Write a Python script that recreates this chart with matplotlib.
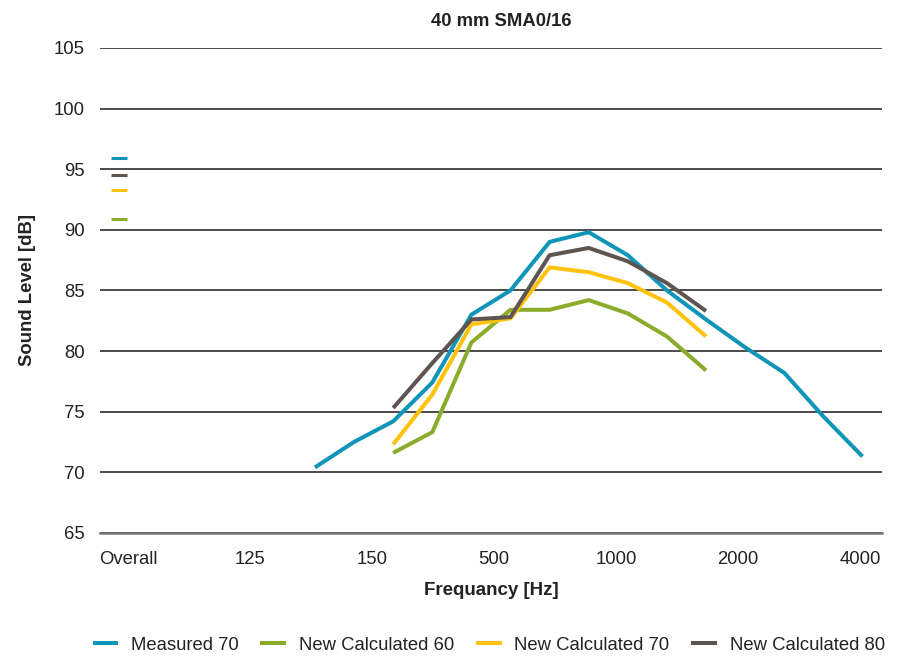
"""
Sound level by frequency band, 40 mm SMA0/16
"""

import matplotlib.pyplot as plt
import numpy as np

nan = np.nan

# frequency bands: "Overall" first, then 1/3-octave bands (19 of them)
n_bands = 20
tick_labels = ["Overall", "125", "150", "500", "1000", "2000", "4000"]

measured_70 = [95.9, nan, nan, nan, nan, 70.4, 72.5, 74.2, 77.4, 83.0,
               85.0, 89.0, 89.8, 87.9, 85.0, 82.6, 80.3, 78.2, 74.6, 71.3]
calc_60 = [90.9, nan, nan, nan, nan, nan, nan, 71.6, 73.3, 80.7,
           83.4, 83.4, 84.2, 83.1, 81.2, 78.4, nan, nan, nan, nan]
calc_70 = [93.3, nan, nan, nan, nan, nan, nan, 72.3, 76.4, 82.2,
           82.7, 86.9, 86.5, 85.6, 84.0, 81.2, nan, nan, nan, nan]
calc_80 = [94.5, nan, nan, nan, nan, nan, nan, 75.3, 79.0, 82.6,
           82.8, 87.9, 88.5, 87.4, 85.6, 83.3, nan, nan, nan, nan]

series = [
    ("Measured 70", measured_70, "#0f95b8"),
    ("New Calculated 60", calc_60, "#8aac2a"),
    ("New Calculated 70", calc_70, "#ffc20e"),
    ("New Calculated 80", calc_80, "#5e5450"),
]

plt.rcParams['font.family'] = ['Liberation Sans', 'DejaVu Sans']

fig = plt.figure(figsize=(9, 6.57), dpi=100)
ax = fig.add_axes([0.111, 0.189, 0.869, 0.738])

x = np.arange(n_bands)
for name, vals, col in series:
    vals = np.array(vals, dtype=float)
    ax.plot(x, vals, color=col, lw=2.9, label=name, solid_capstyle='butt')
    # the overall value is a single point, shown as a dash
    ax.plot(x[:1], vals[:1], ls='none', marker='_', ms=12, mew=2.2, color=col)

ax.set_xlim(-0.5, n_bands - 0.5)
ax.set_ylim(65, 105)
ax.set_yticks(np.arange(65, 106, 5))
ax.yaxis.grid(True, color='#1a1a1a', lw=1.1)
ax.set_axisbelow(True)

ax.set_xticks(np.linspace(0.22, 18.94, len(tick_labels)))
ax.set_xticklabels(tick_labels)
ax.tick_params(axis='both', length=0, labelsize=13.3, colors='#222222')
ax.tick_params(axis='x', pad=13)
ax.tick_params(axis='y', pad=11)

for s in ['top', 'right', 'left']:
    ax.spines[s].set_visible(False)
ax.spines['bottom'].set_color('#777777')
ax.spines['bottom'].set_linewidth(1.8)

fig.text(501 / 900, 1 - 21 / 657, "40 mm SMA0/16", fontsize=13.3,
         fontweight='bold', ha='center', va='center', color='#222222')
ax.set_xlabel("Frequancy [Hz]", fontsize=13.5, fontweight='bold', labelpad=10,
              color='#222222')
ax.set_ylabel("Sound Level [dB]", fontsize=13.3, fontweight='bold', labelpad=13,
              color='#222222')

fig.legend(loc='lower center', ncol=4, frameon=False, fontsize=13.3,
           bbox_to_anchor=(0.543, -0.02), handlelength=1.4, handletextpad=0.7,
           columnspacing=1.15, labelcolor='#222222')

fig.savefig("out.png", dpi=100)
